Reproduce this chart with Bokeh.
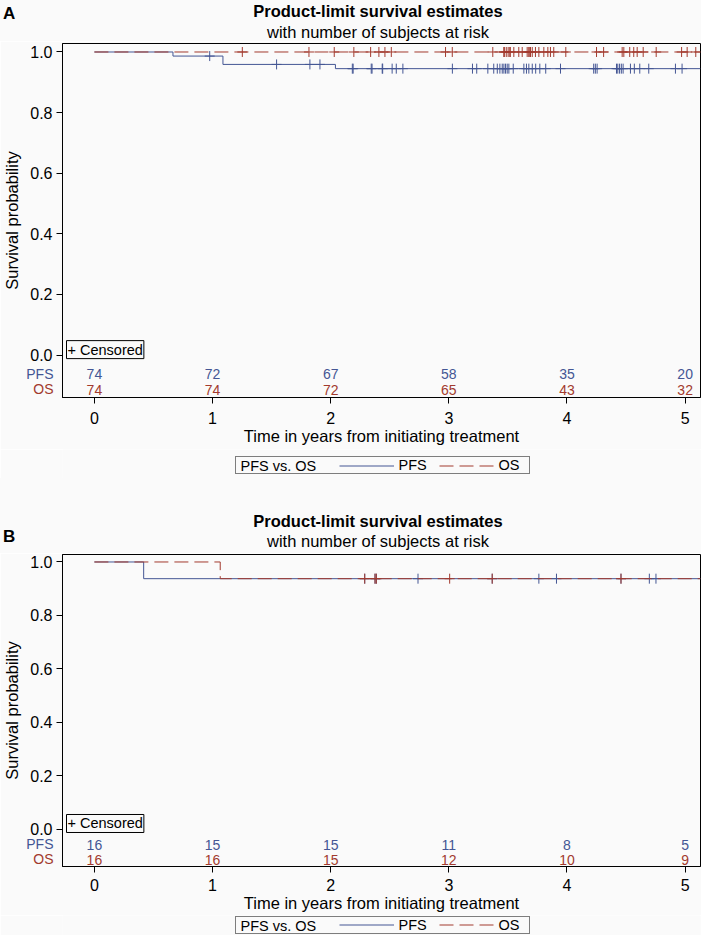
import numpy as np
from bokeh.plotting import figure
from bokeh.models import (Range1d, Label, Legend, LegendItem, FixedTicker,
                          NumeralTickFormatter, Div)
from bokeh.layouts import column
from bokeh.embed import file_html
from bokeh.resources import INLINE
from bokeh.core.properties import value

# ---------------- data ----------------
risk_times = [0, 1, 2, 3, 4, 5]
y_ticks = [0.0, 0.2, 0.4, 0.6, 0.8, 1.0]

# Panel A
a_pfs_times = [0.0, 0.665, 1.088, 2.04]
a_pfs_surv = [1.0, 0.9865, 0.959, 0.945]
a_os_times = [0.0]
a_os_surv = [1.0]
a_end = 5.13
a_pfs_censor = [0.976, 1.542, 1.824, 1.909, 2.183, 2.19, 2.343, 2.35, 2.436, 2.44, 2.52, 2.555,
                2.611, 3.03, 3.2, 3.236, 3.33, 3.38, 3.41, 3.432, 3.452, 3.466, 3.48, 3.494,
                3.508, 3.545, 3.635, 3.657, 3.677, 3.706, 3.735, 3.77, 3.82, 3.945, 4.226,
                4.24, 4.255, 4.419, 4.43, 4.445, 4.46, 4.475, 4.537, 4.57, 4.616, 4.692,
                4.918, 4.974]
a_os_censor = [1.252, 1.816, 2.03, 2.196, 2.338, 2.408, 2.459, 2.513, 2.972, 3.029, 3.372,
               3.465, 3.47, 3.486, 3.502, 3.516, 3.52, 3.55, 3.592, 3.621, 3.663, 3.677, 3.68,
               3.691, 3.706, 3.733, 3.762, 3.804, 3.838, 3.86, 3.888, 3.99, 4.25, 4.31, 4.467,
               4.481, 4.531, 4.565, 4.594, 4.645, 4.755, 4.97, 5.017, 5.09]
a_pfs_risk = [74, 72, 67, 58, 35, 20]
a_os_risk = [74, 74, 72, 65, 43, 32]

# Panel B
b_pfs_times = [0.0, 0.417]
b_pfs_surv = [1.0, 0.9375]
b_os_times = [0.0, 1.065]
b_os_surv = [1.0, 0.9375]
b_end = 5.13
b_pfs_censor = [2.288, 2.375, 2.386, 2.739, 3.367, 3.762, 3.911, 4.457, 4.697, 4.753]
b_os_censor = [2.288, 2.375, 2.386, 3.007, 3.367, 4.457]
b_pfs_risk = [16, 15, 15, 11, 8, 5]
b_os_risk = [16, 16, 15, 12, 10, 9]

series_names = ["PFS", "OS"]

# ---------------- style / layout ----------------
BLUE = "#445694"
RED = "#A23A2E"
BG = "#fafafa"
FONT = "Liberation Sans"
W = 701
ML, MR = 62, 1
FW = W - ML - MR
X0, X1 = -0.27, 5.13
Y0, Y1 = -0.14, 1.028
TITLE_X = 378
ROW_LABEL_RIGHT = 53.5


def km_at(times, surv, t):
    idx = np.searchsorted(np.asarray(times), np.asarray(t), side="right") - 1
    return np.asarray(surv)[idx]


def px2x(px):
    return X0 + px * (X1 - X0) / FW


def make_header(letter, H, title_y, sub_y, letter_y, row_labels):
    base = "position:absolute;white-space:nowrap;line-height:1;"
    parts = [
        f'<div style="position:relative;width:{W}px;height:{H}px;background:{BG};'
        f"overflow:visible;font-family:'{FONT}',Arial,sans-serif;color:#000;\">",
        f'<div style="{base}left:3px;top:{letter_y}px;transform:translateY(-50%);'
        f'font-size:17px;font-weight:bold;">{letter}</div>',
        f'<div style="{base}left:{TITLE_X}px;top:{title_y}px;transform:translate(-50%,-50%);'
        f'font-size:16.5px;font-weight:bold;">Product-limit survival estimates</div>',
        f'<div style="{base}left:{TITLE_X}px;top:{sub_y}px;transform:translate(-50%,-50%);'
        f'font-size:16.5px;">with number of subjects at risk</div>',
    ]
    # at-risk row labels, sitting left of the plot frame below this header
    for text, y, col in row_labels:
        parts.append(
            f'<div style="{base}left:{ROW_LABEL_RIGHT}px;top:{y:.1f}px;'
            f'transform:translate(-100%,-50%);font-size:14px;color:{col};z-index:10;">'
            f'{text}</div>')
    parts.append('</div>')
    return Div(text="".join(parts), width=W, height=H, margin=(0, 0, 0, 0),
               styles={"background-color": BG, "overflow": "visible", "z-index": "10"})


def make_footer(H, box_left, box_bottom):
    f = figure(width=W, height=H, x_range=Range1d(ML, W - MR), y_range=Range1d(0, H),
               output_backend="svg", toolbar_location=None,
               min_border_left=ML, min_border_right=MR, min_border_top=0, min_border_bottom=0,
               x_axis_location=None, y_axis_location=None,
               outline_line_color=None, background_fill_color=BG, border_fill_color=BG)
    f.grid.visible = False
    r_blank = f.line([np.nan], [np.nan], line_alpha=0)
    r_pfs = f.line([np.nan], [np.nan], line_color=BLUE, line_width=1)
    r_os = f.line([np.nan], [np.nan], line_color=RED, line_width=1, line_dash="14 6")
    legend = Legend(items=[LegendItem(label="\u00a0" * 8, renderers=[r_blank]),
                           LegendItem(label=series_names[0], renderers=[r_pfs]),
                           LegendItem(label=series_names[1], renderers=[r_os])],
                    orientation="horizontal", location=(box_left - ML, box_bottom),
                    label_text_font=FONT, label_text_font_size="14.5px",
                    label_text_color="black",
                    border_line_color="black", border_line_width=1,
                    background_fill_alpha=0,
                    padding=0, spacing=10, margin=0,
                    glyph_width=55, glyph_height=13, label_height=13, label_width=30,
                    label_standoff=5)
    f.add_layout(legend)
    f.add_layout(Label(x=box_left + 4.7, y=box_bottom + 8.4, text="PFS vs. OS",
                       text_align="left", text_baseline="middle", text_font=FONT,
                       text_font_size="14.5px", text_color="black"))
    return f


def make_panel(pfs_t, pfs_s, os_t, os_s, t_end, pfs_c, os_c, pfs_r, os_r,
               top, frame_h, bottom, lay):
    H = top + frame_h + bottom
    p = figure(width=W, height=H, x_range=Range1d(X0, X1), y_range=Range1d(Y0, Y1),
               output_backend="svg", toolbar_location=None,
               min_border_left=ML, min_border_right=MR,
               min_border_top=top, min_border_bottom=bottom,
               background_fill_color=BG, border_fill_color=BG,
               outline_line_color="black", outline_line_width=1)
    p.grid.visible = False

    # axes
    xa = p.xaxis[0]
    xa.ticker = FixedTicker(ticks=risk_times)
    xa.axis_label = "Time in years from initiating treatment"
    ya = p.yaxis[0]
    ya.ticker = FixedTicker(ticks=y_ticks)
    ya.formatter = NumeralTickFormatter(format="0.0")
    ya.axis_label = "Survival probability"
    for ax in (xa, ya):
        ax.axis_line_color = "black"
        ax.major_tick_line_color = "black"
        ax.minor_tick_line_color = None
        ax.major_tick_out = 6
        ax.major_tick_in = 0
        ax.major_label_text_font = FONT
        ax.major_label_text_font_size = "16px"
        ax.major_label_text_color = "black"
        ax.axis_label_text_font = FONT
        ax.axis_label_text_font_size = "16.5px"
        ax.axis_label_text_font_style = "normal"
        ax.axis_label_text_color = "black"
    xa.major_label_standoff = lay["xstand"]
    xa.axis_label_standoff = 0
    ya.major_label_standoff = 4
    ya.axis_label_standoff = 6

    # curves
    pfs_x = list(pfs_t) + [t_end]
    pfs_y = list(pfs_s) + [pfs_s[-1]]
    os_x = list(os_t) + [t_end]
    os_y = list(os_s) + [os_s[-1]]
    p.step(pfs_x, pfs_y, mode="after", line_color=BLUE, line_width=1)
    p.scatter(pfs_c, km_at(pfs_t, pfs_s, pfs_c), marker="cross", size=10,
              line_color=BLUE, line_width=1)
    p.step(os_x, os_y, mode="after", line_color=RED, line_width=1, line_dash="14 6")
    p.scatter(os_c, km_at(os_t, os_s, os_c), marker="cross", size=10,
              line_color=RED, line_width=1)

    # at-risk table
    for vals, ry, col in ((pfs_r, lay["row_pfs"], BLUE), (os_r, lay["row_os"], RED)):
        p.text(x=risk_times, y=[ry] * len(risk_times), text=[str(v) for v in vals],
               text_align="center", text_baseline="middle", text_color=col,
               text_font=value(FONT), text_font_size="14px")

    p.add_layout(Label(x=px2x(4), y=lay["cens_y"], text="+ Censored", text_align="left",
                       text_baseline="middle", text_font=FONT, text_font_size="14.5px",
                       text_color="black", border_line_color="black",
                       background_fill_color=BG, padding=1))
    return p


def row_label_positions(head_h, top, frame_h, row_pfs, row_os):
    # vertical position (relative to the header's top) of each at-risk row
    frame_bottom = head_h + top + frame_h
    scale = frame_h / (Y1 - Y0)
    return [(series_names[0], frame_bottom - (row_pfs - Y0) * scale, BLUE),
            (series_names[1], frame_bottom - (row_os - Y0) * scale, RED)]


LAY_A = dict(xstand=8, row_pfs=-0.064, row_os=-0.114, cens_y=0.018)
LAY_B = dict(xstand=6, row_pfs=-0.059, row_os=-0.115, cens_y=0.021)

ha = make_header("A", 41, title_y=11, sub_y=32, letter_y=13.3,
                 row_labels=row_label_positions(41, 2, 354, LAY_A["row_pfs"], LAY_A["row_os"]))
pa = make_panel(a_pfs_times, a_pfs_surv, a_os_times, a_os_surv, a_end,
                a_pfs_censor, a_os_censor, a_pfs_risk, a_os_risk,
                top=2, frame_h=354, bottom=52, lay=LAY_A)
fa = make_footer(29, box_left=235.3, box_bottom=4)
hb = make_header("B", 75, title_y=43, sub_y=62.5, letter_y=57.5,
                 row_labels=row_label_positions(75, 1, 312, LAY_B["row_pfs"], LAY_B["row_os"]))
pb = make_panel(b_pfs_times, b_pfs_surv, b_os_times, b_os_surv, b_end,
                b_pfs_censor, b_os_censor, b_pfs_risk, b_os_risk,
                top=1, frame_h=312, bottom=49, lay=LAY_B)
fb = make_footer(20, box_left=235.3, box_bottom=1.5)

layout = column(ha, pa, fa, hb, pb, fb, spacing=0)
open("out.html", "w").write(file_html(layout, INLINE))
